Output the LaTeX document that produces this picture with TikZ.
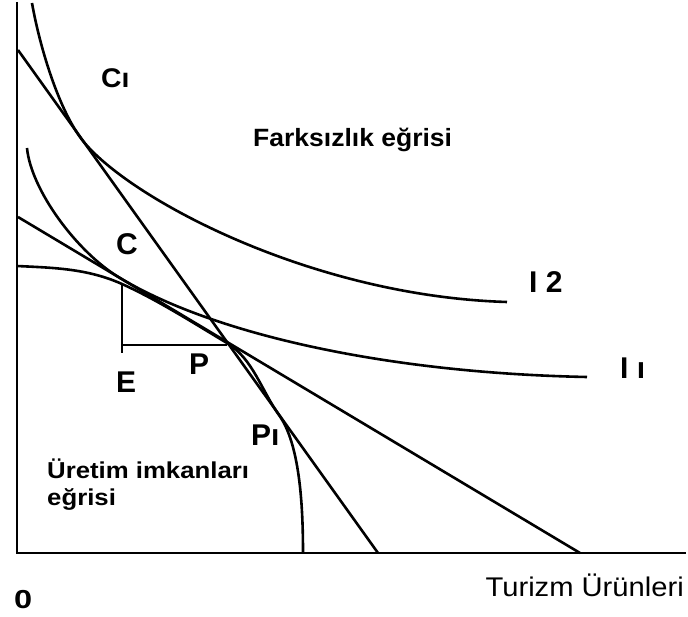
\documentclass[tikz,border=0pt]{standalone}
\usepackage{fontspec}
\setmainfont{Liberation Sans}
\usepackage{graphicx}
\tikzset{
  curve/.style={line width=2.6pt, line join=round},
  axis/.style={line width=2.8pt},
  guide/.style={line width=2.3pt},
  lbl/.style={inner sep=0pt, anchor=base west, font=\fontsize{30}{35}\selectfont\bfseries},
  txt/.style={inner sep=0pt, anchor=base west},
}
\begin{document}
\begin{tikzpicture}[x=1pt,y=-1pt]
\useasboundingbox (0,0) rectangle (688,617);
% axes
\coordinate (O) at (17,553);
\coordinate (Ytop) at (17,2);
\coordinate (Xend) at (686,553);
\draw[axis] (Ytop) -- (O) -- (Xend);
% budget (price) lines
\coordinate (A1) at (18,50);
\coordinate (B1) at (378,553);
\coordinate (A2) at (18,217);
\coordinate (B2) at (580,553);
\draw[curve] (A1) -- (B1);
\draw[curve] (A2) -- (B2);
% production possibility curve
\coordinate (Q0) at (17,266);
\coordinate (Cp) at (122,284);
\coordinate (Pp) at (227,343);
\coordinate (P1p) at (279,415);
\coordinate (Q4) at (303,553);
\draw[curve] (Q0) .. controls (52,267.75) and (87,268.25) .. (Cp)
  .. controls (157,299.75) and (192,322.1) .. (Pp)
  .. controls (252.7,358.4) and (261.5,390.6) .. (P1p)
  .. controls (299.4,443.5) and (303,503) .. (Q4);
% indifference curve I1
\coordinate (I1s) at (27,148);
\coordinate (I1t) at (120,278);
\coordinate (I1e) at (587,377);
\draw[curve] (I1s) .. controls (31,190) and (77,252.4) .. (I1t)
  .. controls (214,334.4) and (387,373) .. (I1e);
% indifference curve I2
\coordinate (I2s) at (32,3);
\coordinate (I2t) at (80,137);
\coordinate (I2e) at (507,302);
\draw[curve] (I2s) .. controls (39,43) and (56.7,104.5) .. (I2t)
  .. controls (120.7,193.9) and (307,296) .. (I2e);
% C - E - P guide
\coordinate (Ctop) at (122,284);
\coordinate (Ebot) at (122,353);
\coordinate (Ecor) at (122,345);
\coordinate (Pcor) at (227,345);
\draw[guide] (Ctop) -- (Ebot);
\draw[guide] (Ecor) -- (Pcor);
% labels
\node[lbl, font=\fontsize{27}{32}\selectfont\bfseries] (lC1) at (101,88) {\scalebox{1.05}[1]{Cı}};
\node[txt, font=\fontsize{25}{30}\selectfont\bfseries] (lF) at (253,147) {\scalebox{1.06}[1]{Farksızlık eğrisi}};
\node[lbl] (lC) at (116,255) {C};
\node[lbl] (lI2) at (529,293) {I 2};
\node[lbl] (lI1) at (620,378) {I ı};
\node[lbl] (lE) at (116,392) {E};
\node[lbl] (lP) at (189,375) {P};
\node[lbl] (lP1) at (251,445) {Pı};
\node[txt, font=\fontsize{23}{27}\selectfont\bfseries] (lU1) at (47,478) {\scalebox{1.12}[1]{Üretim imkanları}};
\node[txt, font=\fontsize{23}{27}\selectfont\bfseries] (lU2) at (47,505) {\scalebox{1.12}[1]{eğrisi}};
\node[txt, font=\fontsize{26}{30}\selectfont\bfseries] (l0) at (14,608) {\scalebox{1.25}[1]{0}};
\node[txt, anchor=base east, font=\fontsize{27}{32}\selectfont] (lT) at (684,596) {\scalebox{1.08}[1]{Turizm Ürünleri}};
\end{tikzpicture}
\end{document}
